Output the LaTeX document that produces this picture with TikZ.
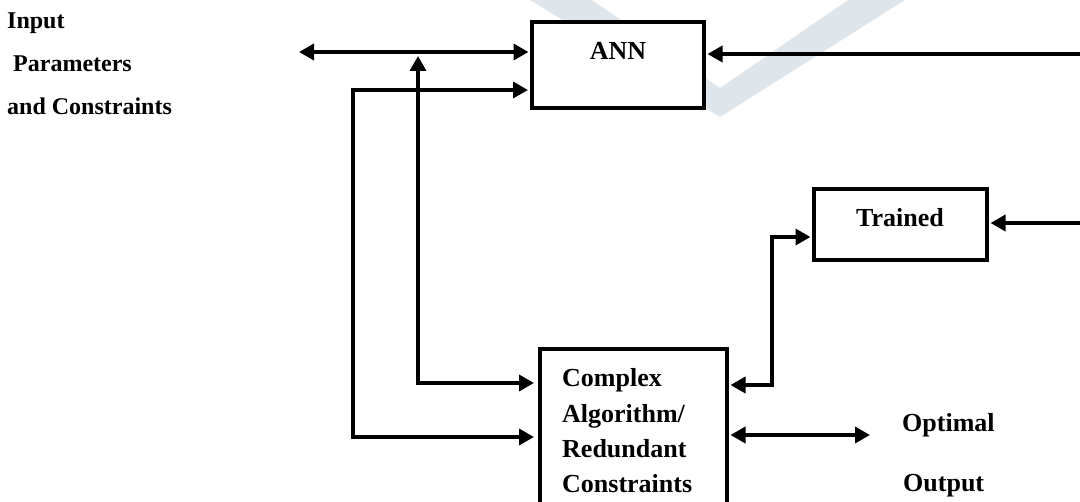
\documentclass[tikz,border=0pt]{standalone}
\usepackage{fontspec}
\setmainfont{Liberation Serif}
\usetikzlibrary{arrows.meta}
\definecolor{wm}{RGB}{223,230,235}
\begin{document}
\begin{tikzpicture}[x=1pt,y=-1pt,
  tipA/.tip={Triangle[length=15pt,width=16pt]},
  conn/.style={line width=3.5pt, -tipA},
  both/.style={line width=3.5pt, tipA-tipA},
  blk/.style={draw, line width=4pt, fill=white, inner sep=0pt, rectangle},
  boxtxt/.style={font=\fontsize{26}{30}\selectfont\bfseries, inner sep=0pt, anchor=base},
  boxtxtl/.style={font=\fontsize{26}{30}\selectfont\bfseries, inner sep=0pt, anchor=base west},
  sidetxt/.style={font=\fontsize{24}{28}\selectfont\bfseries, inner sep=0pt, anchor=base west},
]
\useasboundingbox (0,0) rectangle (1080,502);
\clip (0,0) rectangle (1080,502);
% watermark
\fill[wm] (530,0) -- (592,0) -- (720,88) -- (848,0) -- (905,0) -- (720,117) -- cycle;

% boxes
\node[blk, minimum width=172pt, minimum height=86pt] (ann) at (618,65) {};
\node[blk, minimum width=173pt, minimum height=71pt] (tr) at (900.5,224.5) {};
\node[blk, minimum width=187pt, minimum height=172pt] (cx) at (633.5,435.5) {};

% box texts
\node[boxtxt] (anntxt) at (618,60) {ANN};
\node[boxtxt] (trtxt) at (900,227) {Trained};
\node[boxtxtl] (cx1) at (562,387) {Complex};
\node[boxtxtl] (cx2) at (562,423) {Algorithm/};
\node[boxtxtl] (cx3) at (562,458) {Redundant};
\node[boxtxtl] (cx4) at (562,493) {Constraints};
\node[boxtxtl] (opt1) at (902,432) {Optimal};
\node[boxtxtl] (opt2) at (903,492) {Output};

% side texts
\node[sidetxt] (in1) at (7,29) {Input};
\node[sidetxt] (in2) at (13,72) {Parameters};
\node[sidetxt] (in3) at (7,115) {and Constraints};

% coordinates
\coordinate (inL) at (299,52);
\coordinate (a1) at (353,90);
\coordinate (a2) at (353,437);
\coordinate (b1) at (418,56);
\coordinate (b2) at (418,383);
\coordinate (c1) at (772,237);
\coordinate (c2) at (772,385);
\coordinate (annR) at (1080,54);
\coordinate (trR) at (1080,223);
\coordinate (optE) at (870,435);

% connectors
\draw[both, shorten >=1.5pt] (inL) -- (ann.west |- inL);
\draw[both, shorten <=2pt, shorten >=4pt] (ann.west |- a1) -- (a1) -- (a2) -- (cx.west |- a2);
\draw[both, shorten >=4pt] (b1) -- (b2) -- (cx.west |- b2);
\draw[both, shorten <=1.5pt, shorten >=1.5pt] (tr.west |- c1) -- (c1) -- (c2) -- (cx.east |- c2);
\draw[conn, shorten >=1.5pt] (annR) -- (ann.east |- annR);
\draw[conn, shorten >=1.5pt] (trR) -- (tr.east |- trR);
\draw[both, shorten <=1.5pt] (cx.east |- optE) -- (optE);
\end{tikzpicture}
\end{document}
